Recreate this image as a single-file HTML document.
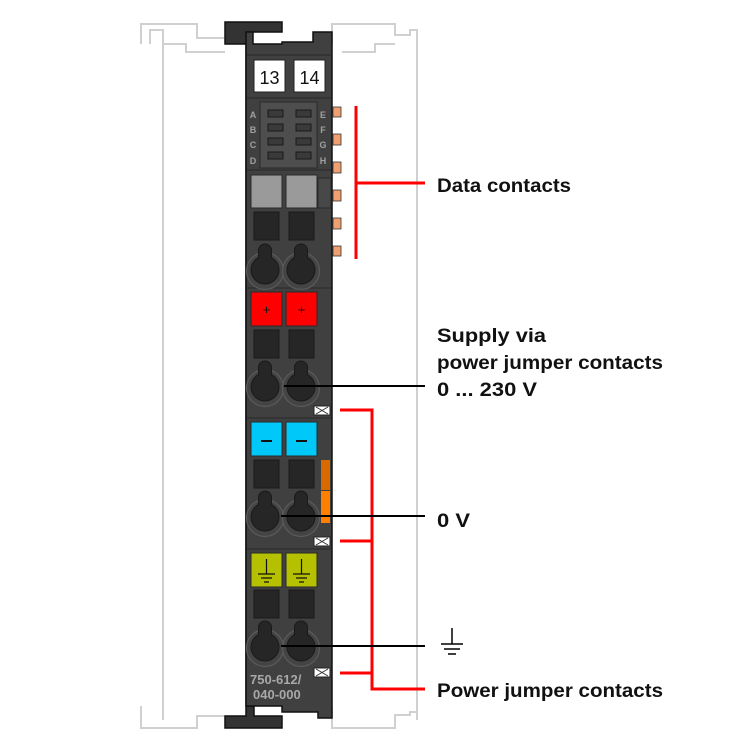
<!DOCTYPE html>
<html><head><meta charset="utf-8"><style>
html,body{margin:0;padding:0;background:#fff;}
svg{display:block;}
text{font-family:"Liberation Sans",sans-serif;}
</style></head><body>
<svg width="750" height="750" viewBox="0 0 750 750" xmlns="http://www.w3.org/2000/svg">
<defs>
  <g id="conn">
    <circle cx="0" cy="2" r="18.5" fill="#444" stroke="#5a5a5a" stroke-width="1.2"/>
    <circle cx="0" cy="1" r="14" fill="#262626" stroke="#1a1a1a" stroke-width="1"/>
    <rect x="-6.5" y="-25" width="13" height="22" rx="6.5" fill="#262626" stroke="#1a1a1a" stroke-width="1"/>
    <circle cx="0" cy="1" r="13.3" fill="#262626"/>
  </g>
  <g id="jx">
    <rect x="0" y="0" width="16" height="9" fill="#fff" stroke="#222" stroke-width="1"/>
    <path d="M2 1 L14 8 M2 8 L14 1" stroke="#333" stroke-width="1" fill="none"/>
  </g>
</defs>
<!-- rail outline -->
<g fill="none" stroke="#d0d0d0" stroke-width="2">
  <path d="M141 44 V24 H197 V38 H225"/>
  <path d="M150 44 V30 H163 V720"/>
  <path d="M332 44 V24 H395 V35 H410 V30 H417 V720"/>
  <path d="M141 706 V728 H197 V716 H225"/>
  <path d="M332 706 V728 H395 V715 H410 V712 H417"/>
  <path d="M163 44 H186 V52 H225"/>
  <path d="M342 52 H375 V44 H395"/>
</g>
<!-- body -->
<path d="M225 22 H282 V32 H248 V706 H254 V716 H282 V728 H225 V716 H246 V44 H225 Z" fill="#333" stroke="#111" stroke-width="1.5"/>
<path d="M246 32 H253 V44 H282 V42 H313 V32 H332 V718 H318 V712 H282 V706 H246 Z" fill="#404040" stroke="#111" stroke-width="1.5"/>
<!-- separators -->
<g stroke="#2e2e2e" stroke-width="1.2">
  <line x1="247" y1="55" x2="331" y2="55"/>
  <line x1="247" y1="98" x2="331" y2="98"/>
  <line x1="247" y1="170" x2="331" y2="170"/>
  <line x1="247" y1="288" x2="331" y2="288"/>
  <line x1="247" y1="418" x2="331" y2="418"/>
  <line x1="247" y1="549" x2="331" y2="549"/>
</g>
<!-- label tabs -->
<rect x="254" y="60" width="31" height="32" fill="#fff" stroke="#222"/>
<rect x="294" y="60" width="31" height="32" fill="#fff" stroke="#222"/>
<text x="269.5" y="84" font-size="18" text-anchor="middle" fill="#111">13</text>
<text x="309.5" y="84" font-size="18" text-anchor="middle" fill="#111">14</text>
<!-- LED area -->
<rect x="260" y="102" width="57" height="66" fill="#4e4e4e" stroke="#2a2a2a"/>
<g fill="#3a3a3a" stroke="#1a1a1a" stroke-width="1">
  <rect x="268" y="110" width="15" height="7"/><rect x="296" y="110" width="15" height="7"/>
  <rect x="268" y="124" width="15" height="7"/><rect x="296" y="124" width="15" height="7"/>
  <rect x="268" y="138" width="15" height="7"/><rect x="296" y="138" width="15" height="7"/>
  <rect x="268" y="152" width="15" height="7"/><rect x="296" y="152" width="15" height="7"/>
</g>
<g fill="#a0a0a0" font-size="9" font-weight="bold" text-anchor="middle">
  <text x="253" y="118">A</text><text x="253" y="133">B</text><text x="253" y="148">C</text><text x="253" y="164">D</text>
  <text x="323" y="118">E</text><text x="323" y="133">F</text><text x="323" y="148">G</text><text x="323" y="164">H</text>
</g>
<!-- data contacts -->
<g fill="#f0a070" stroke="#333" stroke-width="0.8">
  <rect x="333" y="107" width="8" height="10"/><rect x="333" y="134" width="8" height="11"/>
  <rect x="333" y="162" width="8" height="11"/><rect x="333" y="190" width="8" height="11"/>
  <rect x="333" y="218" width="8" height="11"/><rect x="333" y="246" width="8" height="10"/>
</g>
<!-- gray buttons -->
<rect x="251" y="175" width="31" height="33" fill="#9a9a9a" stroke="#2a2a2a"/>
<rect x="286" y="175" width="31" height="33" fill="#9a9a9a" stroke="#2a2a2a"/>
<rect x="318" y="178" width="13" height="30" fill="#484848" stroke="#2a2a2a"/>
<!-- dark squares -->
<g fill="#262626" stroke="#1a1a1a">
  <rect x="254" y="212" width="25" height="28"/><rect x="289" y="212" width="25" height="28"/>
  <rect x="254" y="330" width="25" height="28"/><rect x="289" y="330" width="25" height="28"/>
  <rect x="254" y="460" width="25" height="28"/><rect x="289" y="460" width="25" height="28"/>
  <rect x="254" y="590" width="25" height="28"/><rect x="289" y="590" width="25" height="28"/>
</g>
<!-- connectors -->
<use href="#conn" x="265" y="269"/><use href="#conn" x="301" y="269"/>
<use href="#conn" x="265" y="386"/><use href="#conn" x="301" y="386"/>
<use href="#conn" x="265" y="516"/><use href="#conn" x="301" y="516"/>
<use href="#conn" x="265" y="646"/><use href="#conn" x="301" y="646"/>
<!-- red tabs -->
<rect x="251" y="292" width="31" height="34" fill="#ff0000" stroke="#2a2a2a"/>
<rect x="286" y="292" width="31" height="34" fill="#ff0000" stroke="#2a2a2a"/>
<text x="266.5" y="314" font-size="13" text-anchor="middle" fill="#111">+</text>
<text x="301.5" y="314" font-size="13" text-anchor="middle" fill="#111">+</text>
<!-- blue tabs -->
<rect x="251" y="422" width="31" height="34" fill="#00c8f8" stroke="#2a2a2a"/>
<rect x="286" y="422" width="31" height="34" fill="#00c8f8" stroke="#2a2a2a"/>
<rect x="261" y="440" width="11" height="2" fill="#111"/>
<rect x="296" y="440" width="11" height="2" fill="#111"/>
<!-- orange strip -->
<rect x="321" y="460" width="9" height="30" fill="#d86a00"/>
<rect x="321" y="491" width="9" height="32" fill="#ff8000"/>
<!-- ground tabs -->
<rect x="251" y="553" width="31" height="34" fill="#b4c000" stroke="#2a2a2a"/>
<rect x="286" y="553" width="31" height="34" fill="#b4c000" stroke="#2a2a2a"/>
<g stroke="#111" stroke-width="1.2">
  <path d="M266.5 559 V574 M258 574 H275 M261 578 H272 M264 582 H269"/>
  <path d="M301.5 559 V574 M293 574 H310 M296 578 H307 M299 582 H304"/>
</g>
<!-- jumper X tabs -->
<use href="#jx" x="314" y="406"/><use href="#jx" x="314" y="537"/><use href="#jx" x="314" y="668"/>
<!-- part number -->
<text x="250" y="684" font-size="13" fill="#a8a8a8" font-weight="bold">750-612/</text>
<text x="253" y="699" font-size="13" fill="#a8a8a8" font-weight="bold">040-000</text>
<!-- red lines -->
<g stroke="#ff0000" stroke-width="3" fill="none">
  <line x1="356" y1="106" x2="356" y2="259"/>
  <line x1="356" y1="183" x2="425" y2="183"/>
  <path d="M340 410 H372 V689 H425"/>
  <line x1="340" y1="541" x2="372" y2="541"/>
  <line x1="340" y1="673" x2="372" y2="673"/>
</g>
<!-- black lines -->
<g stroke="#000" stroke-width="2">
  <line x1="284" y1="386" x2="425" y2="386"/>
  <line x1="281" y1="516" x2="425" y2="516"/>
  <line x1="281" y1="646" x2="425" y2="646"/>
  <path d="M452 628 V644 M441 644 H463 M444 649 H460 M448 654 H456" fill="none" stroke-width="1.5"/>
</g>
<!-- labels -->
<g font-size="19" font-weight="bold" fill="#111">
  <text x="437" y="192" textLength="134" lengthAdjust="spacingAndGlyphs">Data contacts</text>
  <text x="437" y="342" textLength="109" lengthAdjust="spacingAndGlyphs">Supply via</text>
  <text x="437" y="369" textLength="226" lengthAdjust="spacingAndGlyphs">power jumper contacts</text>
  <text x="437" y="396" textLength="100" lengthAdjust="spacingAndGlyphs">0 ... 230 V</text>
  <text x="437" y="527" textLength="33" lengthAdjust="spacingAndGlyphs">0 V</text>
  <text x="437" y="697" textLength="226" lengthAdjust="spacingAndGlyphs">Power jumper contacts</text>
</g>
</svg>
</body></html>
